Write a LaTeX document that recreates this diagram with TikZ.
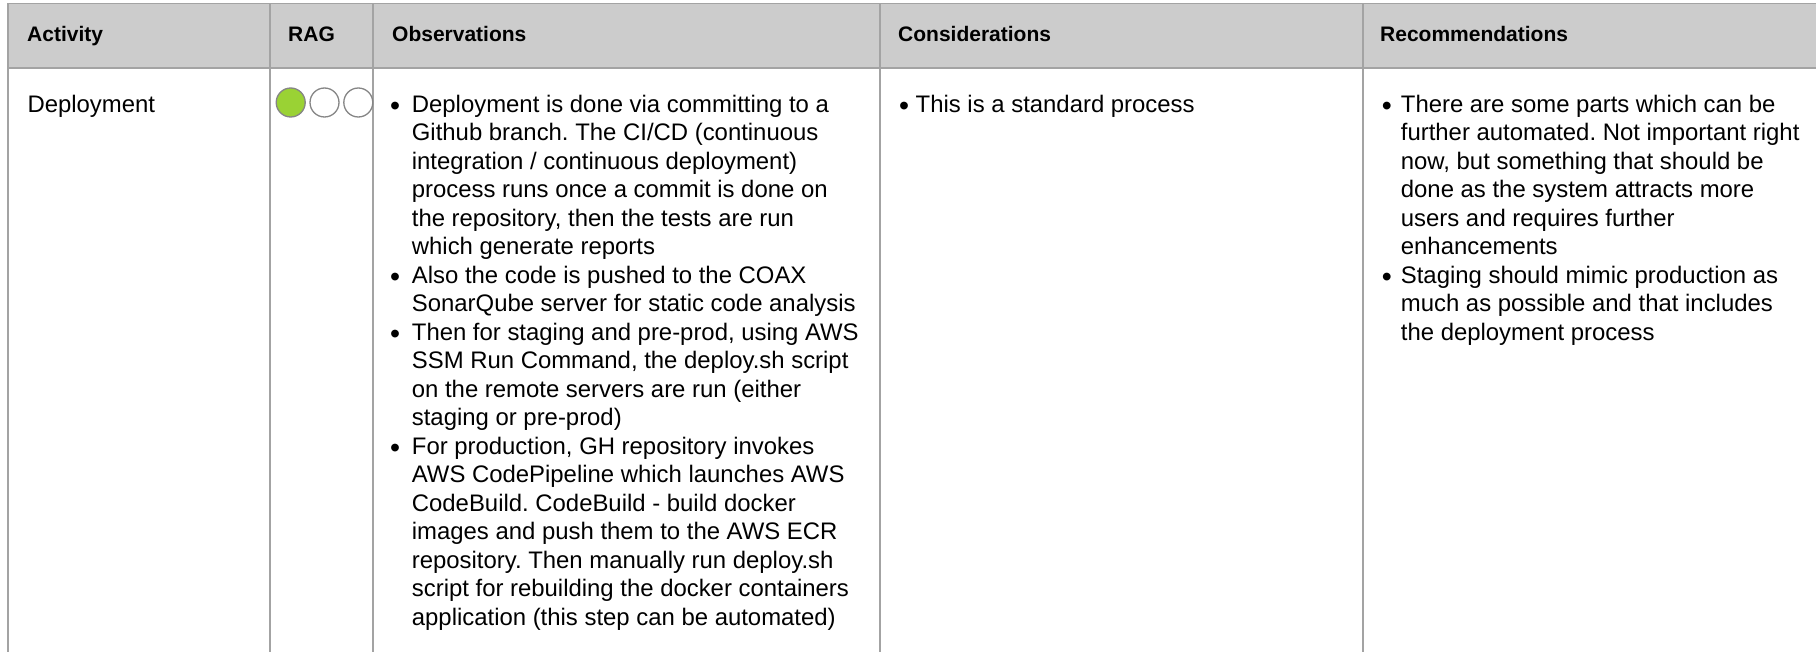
\documentclass[tikz,border=0pt]{standalone}
\usepackage{fontspec}
\setmainfont{Liberation Sans}
\definecolor{hdrfill}{HTML}{CCCCCC}
\definecolor{rulegray}{HTML}{A3A3A3}
\definecolor{raggreen}{RGB}{154,210,52}
\definecolor{ragline}{HTML}{858585}
\newcommand{\bodyfont}{\fontsize{23.9}{28.5}\selectfont\frenchspacing}
\newlength{\blw}
\newcommand{\bl}{\makebox[\blw][l]{\raisebox{-3pt}{\fontsize{28.5}{28.5}\selectfont •}}}
\newcommand{\ind}{\hspace*{\blw}}
\tikzset{
  cellrule/.style={draw=rulegray, line width=1.8pt},
  hdrtext/.style={anchor=base west, inner sep=0pt, font=\fontsize{21}{25}\selectfont\bfseries},
  bodytext/.style={anchor=base west, inner sep=0pt, font=\bodyfont},
  ragdot/.style={circle, draw=ragline, line width=1.3pt, minimum size=29pt, inner sep=0pt},
}
\begin{document}
\begin{tikzpicture}[x=1pt,y=-1pt]
\useasboundingbox (0,0) rectangle (1816,652);
\clip (0,0) rectangle (1816,652);
% header fill
\fill[hdrfill] (8,3.5) rectangle (1830,68);
% horizontal rules
\draw[cellrule] (8,3.5) -- (1830,3.5);
\draw[cellrule] (8,68) -- (1830,68);
% vertical rules
\foreach \xx in {8,270,373,880,1363}{
  \draw[cellrule] (\xx,3.5) -- (\xx,660);
}
% headers
\node[hdrtext] (hAct) at (27,42) {Activity};
\node[hdrtext] (hRag) at (288,42) {RAG};
\node[hdrtext] (hObs) at (392,42) {Observations};
\node[hdrtext] (hCon) at (898,42) {Considerations};
\node[hdrtext] (hRec) at (1380,42) {Recommendations};
% activity
\node[bodytext] (act) at (27.3,112.5) {Deployment};
% RAG dots
\node[ragdot, fill=raggreen] (ragR) at (290.7,102.5) {};
\node[ragdot, fill=white] (ragA) at (324.5,102.5) {};
\node[ragdot, fill=white] (ragG) at (358.3,102.5) {};
% observations
\node[bodytext] (obs) at (390,112.5) {\begin{minipage}[t]{470pt}\bodyfont\raggedright\setlength{\blw}{21.7pt}%
\bl Deployment is done via committing to a\\
\ind Github branch. The CI/CD (continuous\\
\ind integration / continuous deployment)\\
\ind process runs once a commit is done on\\
\ind the repository, then the tests are run\\
\ind which generate reports\\
\bl Also the code is pushed to the COAX\\
\ind SonarQube server for static code analysis\\
\bl Then for staging and pre-prod, using AWS\\
\ind SSM Run Command, the deploy.sh script\\
\ind on the remote servers are run (either\\
\ind staging or pre-prod)\\
\bl For production, GH repository invokes\\
\ind AWS CodePipeline which launches AWS\\
\ind CodeBuild. CodeBuild - build docker\\
\ind images and push them to the AWS ECR\\
\ind repository. Then manually run deploy.sh\\
\ind script for rebuilding the docker containers\\
\ind application (this step can be automated)
\end{minipage}};
% considerations
\node[bodytext] (con) at (899,112.5) {\begin{minipage}[t]{460pt}\bodyfont\raggedright\setlength{\blw}{16.5pt}%
\bl This is a standard process
\end{minipage}};
% recommendations
\node[bodytext] (rec) at (1381.7,112.5) {\begin{minipage}[t]{430pt}\bodyfont\raggedright\setlength{\blw}{19pt}%
\bl There are some parts which can be\\
\ind further automated. Not important right\\
\ind now, but something that should be\\
\ind done as the system attracts more\\
\ind users and requires further\\
\ind enhancements\\
\bl Staging should mimic production as\\
\ind much as possible and that includes\\
\ind the deployment process
\end{minipage}};
\end{tikzpicture}
\end{document}
